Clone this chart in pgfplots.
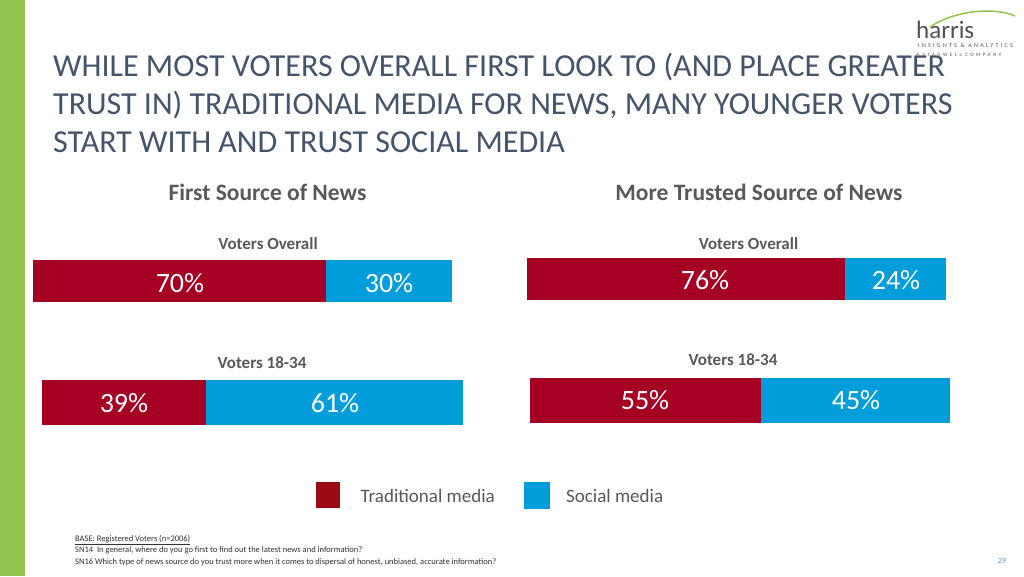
\documentclass[border=0pt]{standalone}
\usepackage{pgfplots}
\pgfplotsset{compat=1.18}
\usepackage{fontspec}
\setmainfont{Carlito}
\definecolor{tred}{RGB}{165,0,36}
\definecolor{sblue}{RGB}{0,157,219}
\definecolor{lred}{RGB}{155,10,18}
\definecolor{titlec}{RGB}{68,84,106}
\definecolor{grayt}{RGB}{89,89,89}
\definecolor{foot}{RGB}{50,50,50}
\definecolor{hgreen}{RGB}{146,197,80}
\definecolor{pgnum}{RGB}{91,155,213}
\definecolor{logogray}{RGB}{80,82,85}
\pgfplotsset{mybar/.style={xbar stacked, hide axis, scale only axis, xmin=0, xmax=100, ymin=-0.5, ymax=0.5, bar width=1, enlargelimits=false, clip=false, anchor=north west}}
\newcommand{\barfont}{\fontsize{28}{28}\selectfont}
\begin{document}
\begin{tikzpicture}
\path[use as bounding box, fill=white] (0pt,0pt) rectangle (1024pt,-576pt);
\begin{scope}[x=1pt,y=-1pt]
\fill[hgreen] (0,0) rectangle (25,576);
% logo
\draw[hgreen, line width=1.5] (930,27) .. controls (955,10) and (995,7) .. (1015,16);
\node[anchor=base west, inner sep=0, font=\fontsize{25}{25}\selectfont, text=logogray] at (916,38) {harris};
\node[anchor=base west, inner sep=0, font=\fontsize{6}{6}\selectfont\addfontfeature{LetterSpace=38}, text=logogray] at (918,47) {INSIGHTS \& ANALYTICS};
\node[anchor=base west, inner sep=0, font=\fontsize{5}{5}\selectfont\addfontfeature{LetterSpace=50}, text=logogray] at (916,56) {A STAGWELL COMPANY};
% title
\node[anchor=base west, inner sep=0, font=\fontsize{32}{32}\selectfont, text=titlec] at (53,76) {WHILE MOST VOTERS OVERALL FIRST LOOK TO (AND PLACE GREATER};
\node[anchor=base west, inner sep=0, font=\fontsize{32}{32}\selectfont, text=titlec] at (53,114) {TRUST IN) TRADITIONAL MEDIA FOR NEWS, MANY YOUNGER VOTERS};
\node[anchor=base west, inner sep=0, font=\fontsize{32}{32}\selectfont, text=titlec] at (53,152) {START WITH AND TRUST SOCIAL MEDIA};
% subtitles
\node[anchor=base, inner sep=0, font=\bfseries\fontsize{23.5}{23.5}\selectfont, text=grayt] at (267.5,200) {First Source of News};
\node[anchor=base, inner sep=0, font=\bfseries\fontsize{23.5}{23.5}\selectfont, text=grayt] at (759,200) {More Trusted Source of News};
\node[anchor=base, inner sep=0, font=\bfseries\fontsize{17}{17}\selectfont, text=grayt] at (268,249) {Voters Overall};
\node[anchor=base, inner sep=0, font=\bfseries\fontsize{17}{17}\selectfont, text=grayt] at (748.5,249) {Voters Overall};
\node[anchor=base, inner sep=0, font=\bfseries\fontsize{17}{17}\selectfont, text=grayt] at (262,368) {Voters 18-34};
\node[anchor=base, inner sep=0, font=\bfseries\fontsize{17}{17}\selectfont, text=grayt] at (733,365) {Voters 18-34};
% footnotes
\node[anchor=base west, inner sep=0, font=\fontsize{8.5}{8.5}\selectfont, text=foot] at (75,541) {\underline{BASE: Registered Voters (n=2006)}};
\node[anchor=base west, inner sep=0, font=\fontsize{8.5}{8.5}\selectfont, text=foot] at (75,552) {SN14\ \ In general, where do you go first to find out the latest news and information?};
\node[anchor=base west, inner sep=0, font=\fontsize{8.5}{8.5}\selectfont, text=foot] at (75,564) {SN16 Which type of news source do you trust more when it comes to dispersal of honest, unbiased, accurate information?};
\node[anchor=base, inner sep=0, font=\fontsize{8}{8}\selectfont, text=pgnum] at (1002,563) {29};
\end{scope}
% Bar 1: First source, overall
\begin{axis}[mybar, width=419pt, height=42pt, at={(33pt,-260pt)}]
\addplot[fill=tred, draw=none] coordinates {(70,0)};
\addplot[fill=sblue, draw=none] coordinates {(30,0)};
\end{axis}
% Bar 2: First source, 18-34
\begin{axis}[mybar, width=421pt, height=45pt, at={(42pt,-380pt)}]
\addplot[fill=tred, draw=none] coordinates {(39,0)};
\addplot[fill=sblue, draw=none] coordinates {(61,0)};
\end{axis}
% Bar 3: Trusted, overall
\begin{axis}[mybar, width=419pt, height=42pt, at={(527pt,-258pt)}]
\addplot[fill=tred, draw=none] coordinates {(76,0)};
\addplot[fill=sblue, draw=none] coordinates {(24,0)};
\end{axis}
% Bar 4: Trusted, 18-34
\begin{axis}[mybar, width=420pt, height=45pt, at={(530pt,-378pt)}]
\addplot[fill=tred, draw=none] coordinates {(55,0)};
\addplot[fill=sblue, draw=none] coordinates {(45,0)};
\end{axis}
% legend
\begin{axis}[hide axis, scale only axis, width=1pt, height=1pt, xmin=0, xmax=1, ymin=0, ymax=1,
  at={(313pt,-495pt)}, anchor=center,
  legend style={at={(axis description cs:0,0.5)}, anchor=west, draw=none, fill=none, legend columns=2,
    font=\fontsize{19}{19}\selectfont, text=grayt, nodes={inner sep=0pt},
    /tikz/every odd column/.append style={column sep=21pt},
    /tikz/every even column/.append style={column sep=29pt}},
  legend cell align=left]
\addlegendimage{legend image code/.code={\fill[lred] (0pt,-12.5pt) rectangle (23.5pt,12.5pt);}}
\addlegendentry{\raisebox{-4pt}{Traditional media}}
\addlegendimage{legend image code/.code={\fill[sblue] (0pt,-13.5pt) rectangle (25pt,13pt);}}
\addlegendentry{\hspace*{-4pt}\raisebox{-4pt}{Social media}}
\end{axis}
% value labels
\begin{scope}[x=1pt,y=-1pt]
\node[anchor=base, inner sep=0, text=white, font=\barfont] at (180,292) {70\%};
\node[anchor=base, inner sep=0, text=white, font=\barfont] at (389,292) {30\%};
\node[anchor=base, inner sep=0, text=white, font=\barfont] at (124,412) {39\%};
\node[anchor=base, inner sep=0, text=white, font=\barfont] at (335,412) {61\%};
\node[anchor=base, inner sep=0, text=white, font=\barfont] at (705,289) {76\%};
\node[anchor=base, inner sep=0, text=white, font=\barfont] at (896,289) {24\%};
\node[anchor=base, inner sep=0, text=white, font=\barfont] at (645,409) {55\%};
\node[anchor=base, inner sep=0, text=white, font=\barfont] at (856,409) {45\%};
\end{scope}
\end{tikzpicture}
\end{document}
